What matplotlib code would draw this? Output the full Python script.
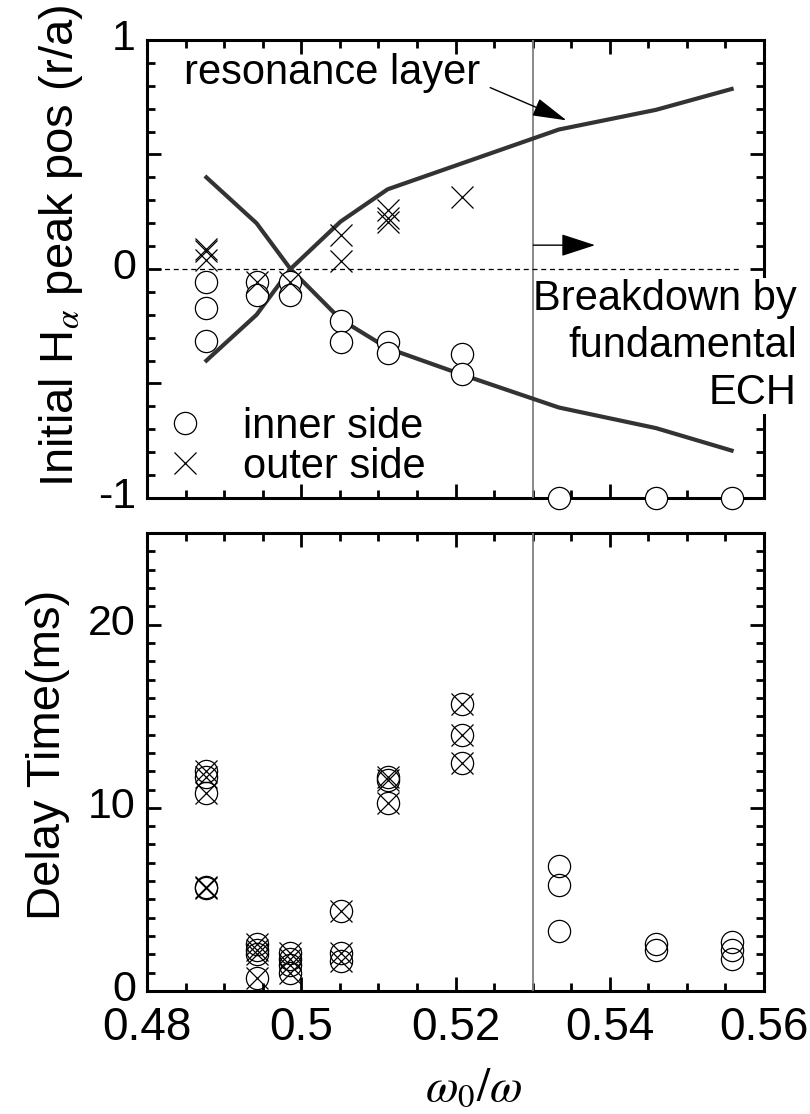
import matplotlib

matplotlib.use("Agg")
import matplotlib.pyplot as plt
import matplotlib.transforms as mtransforms
from matplotlib.ticker import FixedLocator, FixedFormatter, FuncFormatter, MultipleLocator

plt.rcParams["font.family"] = ["Liberation Sans", "DejaVu Sans"]
plt.rcParams["mathtext.fontset"] = "stix"
plt.rcParams["axes.unicode_minus"] = False

# omega_0 / omega for each scan point
freq_ratio = [0.4877, 0.4942, 0.4986, 0.5051, 0.5112, 0.5209, 0.5334, 0.5460, 0.5558]

# resonance layer position (r/a), both branches
res_rising = [-0.40, -0.20, 0.0, 0.207, 0.348, 0.462, 0.609, 0.695, 0.786]
res_falling = [0.40, 0.20, 0.0, -0.22, -0.346, -0.462, -0.605, -0.695, -0.793]

# initial H-alpha peak position, inner side
inner_x = [0.4877, 0.4877, 0.4877, 0.4942, 0.4942, 0.4986, 0.4986, 0.5051, 0.5051,
           0.5112, 0.5112, 0.5209, 0.5209, 0.5334, 0.5460, 0.5558]
inner_r = [-0.056, -0.172, -0.313, -0.056, -0.114, -0.056, -0.114, -0.229, -0.317,
           -0.317, -0.368, -0.371, -0.458, -1.0, -1.0, -1.0]

# initial H-alpha peak position, outer side
outer_x = [0.4877, 0.4877, 0.4877, 0.4942, 0.4986, 0.5051, 0.5051, 0.5112, 0.5112, 0.5112, 0.5209]
outer_r = [0.088, 0.080, 0.039, -0.056, -0.056, 0.149, 0.033, 0.258, 0.222, 0.207, 0.316]

# delay time (ms): shots with both markers, and inner-only shots
delay_x_both = [0.4877, 0.4877, 0.4877, 0.4877, 0.4877,
                0.4942, 0.4942, 0.4942, 0.4942,
                0.4986, 0.4986, 0.4986, 0.4986,
                0.5051, 0.5051, 0.5051,
                0.5112, 0.5112, 0.5112,
                0.5209, 0.5209, 0.5209]
delay_both = [12.0, 11.7, 10.8, 5.7, 5.65,
              2.55, 2.25, 2.0, 0.7,
              2.1, 1.75, 1.4, 1.0,
              4.35, 2.1, 1.65,
              11.7, 11.5, 10.25,
              15.65, 13.95, 12.45]
delay_x_inner = [0.5334, 0.5334, 0.5334, 0.5460, 0.5460, 0.5558, 0.5558, 0.5558]
delay_inner = [6.85, 5.8, 3.3, 2.55, 2.25, 2.7, 2.25, 1.75]

x_ticks = [0.48, 0.50, 0.52, 0.54, 0.56]
ech_limit = 0.53

line_color = "#333333"
mk = dict(ms=16, mec="black", mew=0.9, ls="none")


def style_axes(ax):
    for spine in ax.spines.values():
        spine.set_linewidth(2.2)
    ax.set_xlim(0.48, 0.56)
    ax.xaxis.set_major_locator(FixedLocator(x_ticks))
    ax.xaxis.set_minor_locator(MultipleLocator(0.005))
    ax.xaxis.set_major_formatter(FuncFormatter(lambda v, _: f"{v:g}"))
    ax.tick_params(which="both", direction="in", top=True, right=True, width=2)
    ax.tick_params(axis="x", labelsize=33, pad=11)
    ax.tick_params(axis="y", labelsize=31, pad=8)
    ax.tick_params(which="major", length=10)
    ax.tick_params(which="minor", length=6)
    ax.axvline(ech_limit, color="#808080", lw=1.3, zorder=3)


def lift_ytick_labels(ax):
    # y tick numbers sit a little above their ticks
    shift = mtransforms.ScaledTranslation(0, 4 / 72, ax.figure.dpi_scale_trans)
    for lab in ax.get_yticklabels():
        lab.set_verticalalignment("center_baseline")
        lab.set_transform(lab.get_transform() + shift)


fig = plt.figure(figsize=(8.1, 11.14), dpi=100)
ax1 = fig.add_axes([0.1815, 0.553, 0.7617, 0.4111])
ax2 = fig.add_axes([0.1815, 0.1104, 0.7617, 0.4111])

# --- peak position panel ---
style_axes(ax1)
ax1.set_ylim(-1, 1)
ax1.yaxis.set_major_locator(FixedLocator([-1, -0.5, 0, 0.5, 1]))
ax1.yaxis.set_major_formatter(FixedFormatter(["-1", "", "0", "", "1"]))
ax1.yaxis.set_minor_locator(MultipleLocator(0.1))
ax1.tick_params(labelbottom=False)

ax1.axhline(0, xmax=0.96, color="black", lw=0.9, ls=(0, (4, 3)), zorder=3)
ax1.plot(freq_ratio, res_rising, color=line_color, lw=3, zorder=3)
ax1.plot(freq_ratio, res_falling, color=line_color, lw=3, zorder=3)
ax1.plot(inner_x, inner_r, marker="o", mfc="white", clip_on=False, zorder=4,
         label="inner side", **mk)
ax1.plot(outer_x, outer_r, marker="x", zorder=5, label="outer side", **mk)

ax1.legend(loc="lower left", bbox_to_anchor=(0.028, 0.025), frameon=False, fontsize=30,
           handlelength=1.0, handletextpad=0.9, labelspacing=0.0, borderpad=0,
           borderaxespad=0)

ax1.text(0.48474, 0.809, "resonance layer", fontsize=30, ha="left", va="baseline")
ax1.annotate("", xy=(0.5344, 0.649), xytext=(0.5245, 0.792),
             arrowprops=dict(arrowstyle="-|>,head_length=0.86,head_width=0.23",
                             mutation_scale=25, lw=1, color="black",
                             shrinkA=0, shrinkB=0))
ax1.annotate("", xy=(0.5381, 0.104), xytext=(0.5301, 0.104),
             arrowprops=dict(arrowstyle="-|>,head_length=0.86,head_width=0.28",
                             mutation_scale=25, lw=1, color="black",
                             shrinkA=0, shrinkB=0))
# white box sits over the right spine but under the curves
ax1.text(0.56424, -0.335, "Breakdown by\nfundamental\nECH", fontsize=30,
         ha="right", va="center", multialignment="right", linespacing=1.22,
         zorder=2.7, bbox=dict(fc="white", ec="none", pad=1))

ax1.set_ylabel("Initial H$_{\\alpha}$ peak pos (r/a)", fontsize=34)
ax1.yaxis.set_label_coords(-0.10, 0.55)
lift_ytick_labels(ax1)

# --- delay time panel ---
style_axes(ax2)
ax2.set_ylim(0, 25)
ax2.yaxis.set_major_locator(MultipleLocator(10))
ax2.yaxis.set_minor_locator(MultipleLocator(1))

ax2.plot(delay_x_both, delay_both, marker="o", mfc="none", zorder=4, **mk)
ax2.plot(delay_x_both, delay_both, marker="x", zorder=5, **mk)
ax2.plot(delay_x_inner, delay_inner, marker="o", mfc="none", zorder=4, **mk)

ax2.set_ylabel("Delay Time(ms)", fontsize=34)
ax2.yaxis.set_label_coords(-0.125, 0.515)
ax2.set_xlabel("$\\omega_0/\\omega$", fontsize=34, va="bottom")
ax2.xaxis.set_label_coords(0.53, -0.262)
lift_ytick_labels(ax2)

fig.savefig("out.png", dpi=100)
plt.close(fig)
